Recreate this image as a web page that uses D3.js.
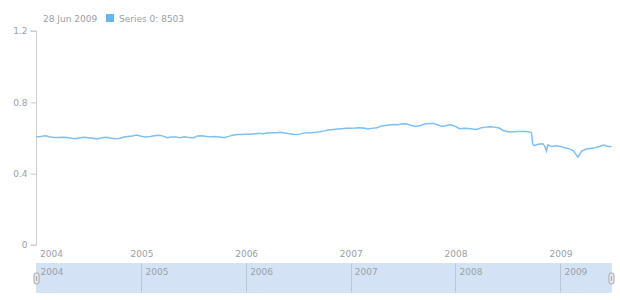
<!DOCTYPE html>
<meta charset="utf-8">
<style>

body {
  margin: 0;
  background-color: white;
  overflow: hidden;
}

text {
  font-family: "DejaVu Sans", sans-serif;
  font-size: 9px;
  fill: #9aa0a6;
}

.line {
  fill: none;
  stroke: #7cc0f7;
  stroke-width: 1.5px;
}

</style>
<body>

<script src="https://cdn.jsdelivr.net/npm/d3@7"></script>
<script>

// Semi-monthly readings of the series, plus the few dates around the 2008/2009 dips.
var dates = [
  "2004-01-01","2004-01-15","2004-02-01","2004-02-15","2004-03-01","2004-03-15",
  "2004-04-01","2004-04-15","2004-05-01","2004-05-15","2004-06-01","2004-06-15",
  "2004-07-01","2004-07-15","2004-08-01","2004-08-15","2004-09-01","2004-09-15",
  "2004-10-01","2004-10-15","2004-11-01","2004-11-15","2004-12-01","2004-12-15",
  "2005-01-01","2005-01-15","2005-02-01","2005-02-15","2005-03-01","2005-03-15",
  "2005-04-01","2005-04-15","2005-05-01","2005-05-15","2005-06-01","2005-06-15",
  "2005-07-01","2005-07-15","2005-08-01","2005-08-15","2005-09-01","2005-09-15",
  "2005-10-01","2005-10-15","2005-11-01","2005-11-15","2005-12-01","2005-12-15",
  "2006-01-01","2006-01-15","2006-02-01","2006-02-15","2006-03-01","2006-03-15",
  "2006-04-01","2006-04-15","2006-05-01","2006-05-15","2006-06-01","2006-06-15",
  "2006-07-01","2006-07-15","2006-08-01","2006-08-15","2006-09-01","2006-09-15",
  "2006-10-01","2006-10-15","2006-11-01","2006-11-15","2006-12-01","2006-12-15",
  "2007-01-01","2007-01-15","2007-02-01","2007-02-15","2007-03-01","2007-03-15",
  "2007-04-01","2007-04-15","2007-05-01","2007-05-15","2007-06-01","2007-06-15",
  "2007-07-01","2007-07-15","2007-08-01","2007-08-15","2007-09-01","2007-09-15",
  "2007-10-01","2007-10-15","2007-11-01","2007-11-15","2007-12-01","2007-12-15",
  "2008-01-01","2008-01-15","2008-02-01","2008-02-15","2008-03-01","2008-03-15",
  "2008-04-01","2008-04-15","2008-05-01","2008-05-15","2008-06-01","2008-06-15",
  "2008-07-01","2008-07-15","2008-08-01","2008-08-15","2008-09-01","2008-09-15",
  "2008-09-22","2008-09-26","2008-10-01","2008-10-15","2008-11-01","2008-11-08",
  "2008-11-13","2008-11-18","2008-12-01","2008-12-15",
  "2009-01-01","2009-01-15","2009-02-01","2009-02-15","2009-03-03","2009-03-15",
  "2009-04-01","2009-04-15","2009-05-01","2009-05-15","2009-06-01","2009-06-15",
  "2009-06-28"
];

var values = [
  0.607,0.609,0.613,0.607,0.603,0.603,
  0.604,0.603,0.598,0.596,0.602,0.604,
  0.602,0.599,0.594,0.601,0.604,0.600,
  0.596,0.597,0.606,0.609,0.611,0.617,
  0.610,0.606,0.608,0.613,0.616,0.612,
  0.602,0.606,0.605,0.602,0.607,0.603,
  0.601,0.611,0.613,0.609,0.607,0.609,
  0.605,0.602,0.609,0.616,0.620,0.619,
  0.621,0.621,0.624,0.626,0.624,0.628,
  0.629,0.630,0.632,0.628,0.624,0.621,
  0.619,0.626,0.629,0.630,0.632,0.635,
  0.640,0.645,0.648,0.650,0.652,0.654,
  0.655,0.656,0.658,0.656,0.650,0.654,
  0.658,0.666,0.670,0.673,0.675,0.674,
  0.680,0.678,0.670,0.664,0.670,0.678,
  0.682,0.682,0.673,0.665,0.670,0.674,
  0.665,0.652,0.655,0.653,0.650,0.648,
  0.658,0.661,0.663,0.661,0.656,0.642,
  0.635,0.634,0.636,0.637,0.637,0.634,
  0.628,0.568,0.557,0.565,0.568,0.551,
  0.527,0.562,0.552,0.556,
  0.553,0.545,0.539,0.528,0.493,0.525,
  0.538,0.541,0.545,0.552,0.560,0.553,
  0.553
];

var yTicks = [0, 0.4, 0.8, 1.2];
var yearTicks = [2004, 2005, 2006, 2007, 2008, 2009];
var legendDate = "28 Jun 2009";
var legendLabel = "Series 0: 8503";

var width = 620,
    height = 300;

var parse = d3.timeParse("%Y-%m-%d");
var data = dates.map(function(d, i) { return {date: parse(d), value: values[i]}; });

var x = d3.scaleTime()
    .domain([new Date(2004, 0, 1), parse(dates[dates.length - 1])])
    .range([36.5, 611.5]);

var y = d3.scaleLinear()
    .domain([0, 1.2])
    .range([245, 31]);

var svg = d3.select("body").append("svg")
    .attr("width", width)
    .attr("height", height);

// legend
svg.append("text")
    .attr("x", 43)
    .attr("y", 22)
    .text(legendDate);

svg.append("rect")
    .attr("x", 106)
    .attr("y", 14)
    .attr("width", 8)
    .attr("height", 8)
    .attr("fill", "#64b5f6");

svg.append("text")
    .attr("x", 119)
    .attr("y", 22)
    .text(legendLabel);

// y axis
var yAxis = svg.append("g")
    .attr("transform", "translate(36.5,0)")
    .call(d3.axisLeft(y).tickValues(yTicks).tickSize(6).tickPadding(3)
      .tickFormat(function(d) { return d; }));

yAxis.select(".domain").attr("stroke", "#ccc").attr("d", "M-6," + y(1.2) + "H0V" + y(0) + "H-6");
yAxis.selectAll(".tick line").attr("stroke", "#ccc");
yAxis.selectAll(".tick text").style("fill", "#9aa0a6").attr("font-size", null).attr("font-family", null);

// x axis labels (no line)
var xAxis = svg.append("g")
    .attr("transform", "translate(0,246)")
    .call(d3.axisBottom(x)
      .tickValues(yearTicks.map(function(yr) { return new Date(yr, 0, 1); }))
      .tickFormat(d3.timeFormat("%Y"))
      .tickSize(0).tickPadding(5));

xAxis.select(".domain").remove();
xAxis.selectAll(".tick text").style("fill", "#9aa0a6").attr("font-size", null).attr("font-family", null);
xAxis.selectAll(".tick text").filter(function(d, i) { return i === 0; })
    .attr("text-anchor", "start").attr("dx", 3);

// series line
var line = d3.line()
    .x(function(d) { return x(d.date); })
    .y(function(d) { return y(d.value); });

svg.append("path")
    .datum(data)
    .attr("class", "line")
    .attr("d", line);

// scroller
var scroller = svg.append("g");

scroller.append("rect")
    .attr("x", x.range()[0])
    .attr("y", 263.5)
    .attr("width", x.range()[1] - x.range()[0])
    .attr("height", 29)
    .attr("fill", "#d3e3f5")
    .attr("stroke", "#c4d6ec")
    .attr("stroke-width", 0.5);

scroller.selectAll(".div")
    .data(yearTicks)
  .enter().append("line")
    .attr("x1", function(d) { return Math.round(x(new Date(d, 0, 1))) + 0.5; })
    .attr("x2", function(d) { return Math.round(x(new Date(d, 0, 1))) + 0.5; })
    .attr("y1", 263.5)
    .attr("y2", 292.5)
    .attr("stroke", function(d, i) { return i === 0 ? "none" : "#b9c6d6"; });

scroller.selectAll(".lbl")
    .data(yearTicks)
  .enter().append("text")
    .attr("x", function(d) { return x(new Date(d, 0, 1)) + 4; })
    .attr("y", 275)
    .text(function(d) { return d; });

// handles
scroller.selectAll(".handle")
    .data(x.range())
  .enter().append("rect")
    .attr("x", function(d) { return d - 2.5; })
    .attr("y", 273)
    .attr("width", 5)
    .attr("height", 11)
    .attr("rx", 2)
    .attr("fill", "#e8e8e8")
    .attr("stroke", "#999")
    .attr("stroke-width", 0.8);

scroller.selectAll(".grip")
    .data(x.range())
  .enter().append("line")
    .attr("x1", function(d) { return d; })
    .attr("x2", function(d) { return d; })
    .attr("y1", 276)
    .attr("y2", 281)
    .attr("stroke", "#999")
    .attr("stroke-width", 0.8);

</script>
